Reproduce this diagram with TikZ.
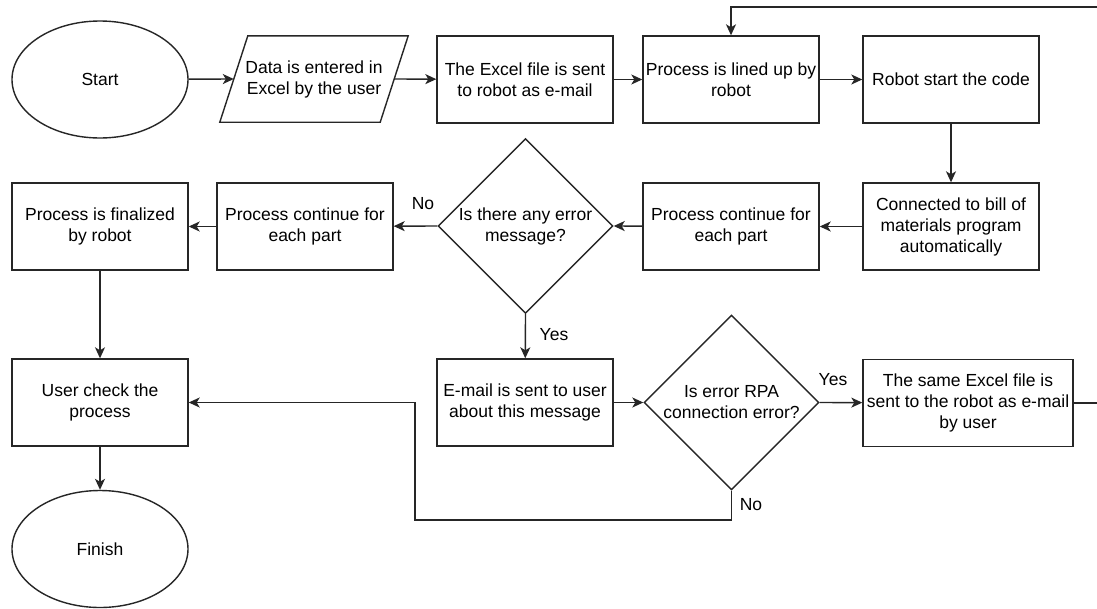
\documentclass[tikz,border=0pt]{standalone}
\usepackage{fontspec}
\setmainfont{Liberation Sans}
\usetikzlibrary{shapes.geometric,arrows.meta}
\begin{document}
\begin{tikzpicture}[x=1pt,y=-1pt,
  every node/.style={font=\fontsize{17.5}{21}\selectfont, text=black},
  line/.style={draw=black!85, line width=1.4pt},
  arr/.style={line, -{Stealth[length=11pt,width=10pt,inset=3pt]}},
  box/.style={line, rectangle, minimum width=176pt, minimum height=87pt, inner sep=2pt, align=center},
  term/.style={line, ellipse, minimum width=176pt, minimum height=117pt, inner sep=0pt},
  dia/.style={line, diamond, minimum width=175pt, minimum height=175pt, inner sep=0pt, align=center},
  lbl/.style={inner sep=0pt}
]
\useasboundingbox[fill=white] (0,0) rectangle (1097,608);
% row 1
\node[term] (start) at (100,79.5) {Start};
\node[minimum width=160pt, minimum height=86pt, inner sep=0pt, align=center] (data) at (314,79) {Data is entered in\\Excel by the user};
\draw[line] ([xshift=-14pt]data.south west) -- ([xshift=-14pt]data.south east) -- ([xshift=14pt]data.north east) -- ([xshift=14pt]data.north west) -- cycle;
\node[box] (excel) at (525,79.5) {The Excel file is sent\\to robot as e-mail};
\node[box] (lined) at (731,79.5) {Process is lined up by\\robot};
\node[box] (robot) at (951,79.5) {Robot start the code};
% row 2
\node[box] (bill) at (951,226.5) {Connected to bill of\\materials program\\automatically};
\node[box] (contR) at (731,226.5) {Process continue for\\each part};
\node[dia] (d1) at (525.5,226) {Is there any error\\message?};
\node[box] (contL) at (305,226.5) {Process continue for\\each part};
\node[box] (final) at (100,226.5) {Process is finalized\\by robot};
% row 3
\node[box] (check) at (100,402.5) {User check the\\process};
\node[term] (finish) at (100,549) {Finish};
\node[box] (email) at (525,402.5) {E-mail is sent to user\\about this message};
\node[dia] (d2) at (731.5,402.5) {Is error RPA\\connection error?};
\node[box, minimum width=210pt] (same) at (968,403) {The same Excel file is\\sent to the robot as e-mail\\by user};
% labels
\node[lbl] (lno1) at (423,204) {No};
\node[lbl] (lyes1) at (554,335) {Yes};
\node[lbl] (lyes2) at (833,380) {Yes};
\node[lbl] (lno2) at (751,505) {No};
% coordinates
\coordinate (c2) at (1105,7);
\coordinate (c3) at (415,520);
% connectors
\draw[arr] (start) -- (data.west);
\draw[arr] (data.east) -- (excel);
\draw[arr] (excel) -- (lined);
\draw[arr] (lined) -- (robot);
\draw[arr] (robot) -- (bill);
\draw[arr] (bill) -- (contR);
\draw[arr] (contR) -- (d1.east);
\draw[arr] (d1.west) -- (contL);
\draw[arr] (contL) -- (final);
\draw[arr] (final) -- (check);
\draw[arr] (check) -- (finish);
\draw[arr] (d1.south) -- (email);
\draw[arr] (email) -- (d2.west);
\draw[arr] (d2.east) -- (same);
\draw[arr] (same.east) -| (c2) -| (lined.north);
\draw[arr] (d2.south) |- (c3) |- (check.east);
\end{tikzpicture}
\end{document}
